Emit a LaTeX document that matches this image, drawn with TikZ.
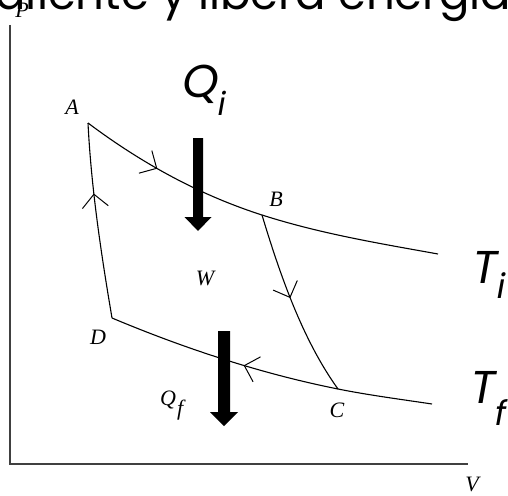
\documentclass[tikz,border=0pt]{standalone}
\usepackage{fontspec}
\setmainfont{Liberation Serif}
\newfontfamily\geo{Poppins}
\newfontfamily\geoit[FakeSlant=0.18]{Poppins}
\usetikzlibrary{arrows.meta,decorations.markings}
\tikzset{
  curve/.style={line width=1.1pt, black},
  axisline/.style={line width=1.2pt, black!75},
  flowmark/.style={postaction={decorate}, decoration={markings, mark=at position #1 with {\arrow{Straight Barb[length=13pt,width=26pt,line width=1pt]}}}},
  smalllbl/.style={font=\fontsize{22}{22}\selectfont\itshape, inner sep=0pt},
  biglbl/.style={font=\geoit\fontsize{46}{46}\selectfont, inner sep=0pt, anchor=base west},
  heatarrow/.style={fill=black},
}
\begin{document}
\begin{tikzpicture}[x=1pt,y=-1pt]
\path[use as bounding box] (0,0) rectangle (508,495);
\begin{scope}
\clip (0,0) rectangle (508,495);
% top text (cut off)
\node[overlay, font=\geo\fontsize{45}{45}\selectfont, anchor=base west, inner sep=0pt] (title) at (-32,10) {caliente y libera energía};
\end{scope}
% axes
\coordinate (Ptop) at (10,25);
\coordinate (O) at (10,464);
\coordinate (Vend) at (468,464);
\draw[axisline] (Ptop) -- (O) -- (Vend);
\node[smalllbl] (lP) at (22,10) {P};
\node[smalllbl] (lV) at (472,484) {V};
% states
\coordinate (A) at (88,123);
\coordinate (B) at (262,215);
\coordinate (C) at (338,389);
\coordinate (D) at (112,318);
\coordinate (TiEnd) at (438,254);
\coordinate (TfEnd) at (432,404);
% cycle
\draw[curve, flowmark=0.42] (A) .. controls (146,166.5) and (204,196.4) .. (B);
\draw[curve] (B) .. controls (320.7,233.8) and (379.3,243.4) .. (TiEnd);
\draw[curve, flowmark=0.46] (B) .. controls (283,285) and (305.6,344) .. (C);
\draw[curve] (C) .. controls (369,395.2) and (401,399.35) .. (TfEnd);
\draw[curve, flowmark=0.41] (C) .. controls (263,374) and (187,349.5) .. (D);
\draw[curve, flowmark=0.64] (D) .. controls (101,253) and (91.25,188) .. (A);
% heat arrows
\fill[heatarrow] (193,138) -- (203,138) -- (203,217) -- (211.5,217) -- (198,231) -- (184.5,217) -- (193,217) -- cycle;
\fill[heatarrow] (218,331) -- (230,331) -- (230,412) -- (238,412) -- (224,426) -- (210,412) -- (218,412) -- cycle;
% labels
\node[smalllbl] (lA) at (72,107) {A};
\node[smalllbl] (lB) at (276,199) {B};
\node[smalllbl] (lC) at (337,410) {C};
\node[smalllbl] (lD) at (98,337) {D};
\node[smalllbl] (lW) at (205,278) {W};
\node[smalllbl, anchor=base west] (lQf) at (160,405) {Q\kern1pt\raisebox{-10pt}{f}};
\node[biglbl] (lQi) at (180,97) {Q\raisebox{-18pt}{\fontsize{32}{32}\selectfont i}};
\node[biglbl] (lTi) at (470,283) {T\raisebox{-15pt}{\fontsize{34}{34}\selectfont i}};
\node[biglbl] (lTf) at (468,403) {T\raisebox{-22pt}{\fontsize{34}{34}\selectfont f}};
\end{tikzpicture}
\end{document}
